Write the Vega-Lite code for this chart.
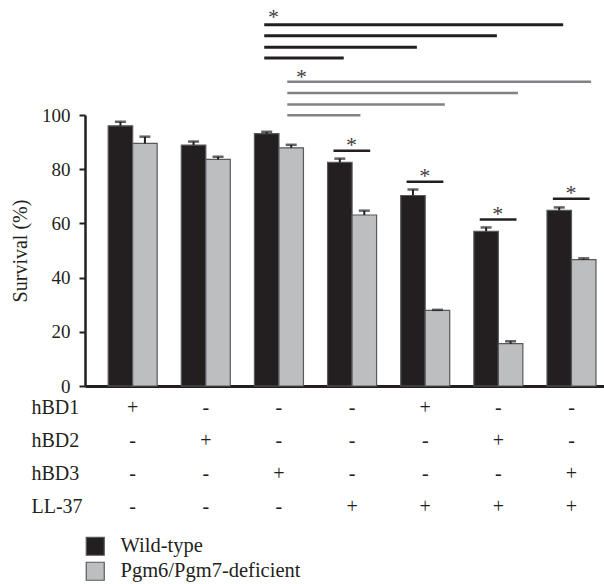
{
  "$schema": "https://vega.github.io/schema/vega-lite/v6.json",
  "background": "white",
  "padding": {"left": 10, "top": 5, "right": 0, "bottom": 0},
  "bounds": "flush",
  "spacing": 5,
  "config": {
    "font": "Liberation Serif",
    "view": {"stroke": null},
    "axis": {"grid": false}
  },
  "datasets": {
    "bars": [
      {"group": "1", "strain": "Wild-type", "survival": 96.0, "upper": 97.5},
      {"group": "1", "strain": "Pgm6/Pgm7-deficient", "survival": 89.5, "upper": 92.0},
      {"group": "2", "strain": "Wild-type", "survival": 88.9, "upper": 90.2},
      {"group": "2", "strain": "Pgm6/Pgm7-deficient", "survival": 83.6, "upper": 84.6},
      {"group": "3", "strain": "Wild-type", "survival": 93.1, "upper": 93.8},
      {"group": "3", "strain": "Pgm6/Pgm7-deficient", "survival": 87.9, "upper": 89.0},
      {"group": "4", "strain": "Wild-type", "survival": 82.5, "upper": 83.9},
      {"group": "4", "strain": "Pgm6/Pgm7-deficient", "survival": 63.1, "upper": 64.7},
      {"group": "5", "strain": "Wild-type", "survival": 70.3, "upper": 72.5},
      {"group": "5", "strain": "Pgm6/Pgm7-deficient", "survival": 27.9, "upper": 28.1},
      {"group": "6", "strain": "Wild-type", "survival": 57.1, "upper": 58.5},
      {"group": "6", "strain": "Pgm6/Pgm7-deficient", "survival": 15.6, "upper": 16.5},
      {"group": "7", "strain": "Wild-type", "survival": 64.8, "upper": 65.9},
      {"group": "7", "strain": "Pgm6/Pgm7-deficient", "survival": 46.6, "upper": 47.1}
    ],
    "pairs": [
      {"group": "4", "level": 86.8},
      {"group": "5", "level": 75.4},
      {"group": "6", "level": 61.4},
      {"group": "7", "level": 69.1}
    ],
    "cmp": [
      {"strain": "Wild-type", "from": "3", "to": "4", "level": 121.0},
      {"strain": "Wild-type", "from": "3", "to": "5", "level": 125.0},
      {"strain": "Wild-type", "from": "3", "to": "6", "level": 129.2},
      {"strain": "Wild-type", "from": "3", "to": "7", "level": 133.3},
      {"strain": "Pgm6/Pgm7-deficient", "from": "3", "to": "4", "level": 99.9},
      {"strain": "Pgm6/Pgm7-deficient", "from": "3", "to": "5", "level": 103.9},
      {"strain": "Pgm6/Pgm7-deficient", "from": "3", "to": "6", "level": 108.1},
      {"strain": "Pgm6/Pgm7-deficient", "from": "3", "to": "7", "level": 112.3}
    ],
    "table": [
      {"group": "1", "peptide": "hBD1", "sign": "+"},
      {"group": "2", "peptide": "hBD1", "sign": "-"},
      {"group": "3", "peptide": "hBD1", "sign": "-"},
      {"group": "4", "peptide": "hBD1", "sign": "-"},
      {"group": "5", "peptide": "hBD1", "sign": "+"},
      {"group": "6", "peptide": "hBD1", "sign": "-"},
      {"group": "7", "peptide": "hBD1", "sign": "-"},
      {"group": "1", "peptide": "hBD2", "sign": "-"},
      {"group": "2", "peptide": "hBD2", "sign": "+"},
      {"group": "3", "peptide": "hBD2", "sign": "-"},
      {"group": "4", "peptide": "hBD2", "sign": "-"},
      {"group": "5", "peptide": "hBD2", "sign": "-"},
      {"group": "6", "peptide": "hBD2", "sign": "+"},
      {"group": "7", "peptide": "hBD2", "sign": "-"},
      {"group": "1", "peptide": "hBD3", "sign": "-"},
      {"group": "2", "peptide": "hBD3", "sign": "-"},
      {"group": "3", "peptide": "hBD3", "sign": "+"},
      {"group": "4", "peptide": "hBD3", "sign": "-"},
      {"group": "5", "peptide": "hBD3", "sign": "-"},
      {"group": "6", "peptide": "hBD3", "sign": "-"},
      {"group": "7", "peptide": "hBD3", "sign": "+"},
      {"group": "1", "peptide": "LL-37", "sign": "-"},
      {"group": "2", "peptide": "LL-37", "sign": "-"},
      {"group": "3", "peptide": "LL-37", "sign": "-"},
      {"group": "4", "peptide": "LL-37", "sign": "+"},
      {"group": "5", "peptide": "LL-37", "sign": "+"},
      {"group": "6", "peptide": "LL-37", "sign": "+"},
      {"group": "7", "peptide": "LL-37", "sign": "+"}
    ]
  },
  "vconcat": [
    {
      "width": 520,
      "height": 271,
      "layer": [
        {
          "data": {"name": "bars"},
          "mark": {"type": "bar", "stroke": "#58595b", "strokeWidth": 1.2},
          "encoding": {
            "x": {
              "field": "group", "type": "nominal", "sort": null,
              "scale": {"type": "band", "domain": ["1", "2", "3", "4", "5", "6", "7"], "paddingInner": 0.33, "paddingOuter": 0.22, "align": 0.72},
              "axis": {"labels": false, "ticks": false, "title": null, "domain": true, "domainColor": "#231f20", "domainWidth": 3}
            },
            "xOffset": {"field": "strain", "type": "nominal", "sort": ["Wild-type", "Pgm6/Pgm7-deficient"], "scale": {"paddingInner": 0, "paddingOuter": 0}},
            "y": {
              "field": "survival", "type": "quantitative", "stack": null, "title": "Survival (%)",
              "scale": {"domain": [0, 100], "nice": false, "zero": true},
              "axis": {"values": [0, 20, 40, 60, 80, 100], "tickSize": 6, "tickWidth": 2, "tickColor": "#231f20", "domainColor": "#231f20", "domainWidth": 2.5, "labelFontSize": 19, "labelColor": "#231f20", "labelPadding": 9, "titleFontSize": 20, "titleFontWeight": "normal", "titleColor": "#231f20", "titlePadding": 11}
            },
            "color": {
              "field": "strain", "type": "nominal", "sort": ["Wild-type", "Pgm6/Pgm7-deficient"],
              "scale": {"domain": ["Wild-type", "Pgm6/Pgm7-deficient"], "range": ["#231f20", "#bcbec0"]},
              "legend": {"orient": "none", "legendX": 0, "legendY": 421, "title": null, "direction": "vertical", "symbolType": "square", "symbolSize": 324, "symbolStrokeColor": "#58595b", "symbolStrokeWidth": 1.2, "labelFontSize": 20.5, "labelColor": "#231f20", "labelOffset": 15, "labelLimit": 0, "rowPadding": 1, "padding": 0}
            }
          }
        },
        {
          "data": {"name": "bars"},
          "mark": {"type": "rule", "color": "#231f20", "strokeWidth": 2},
          "encoding": {
            "x": {"field": "group", "type": "nominal", "sort": null},
            "xOffset": {"field": "strain", "type": "nominal", "sort": ["Wild-type", "Pgm6/Pgm7-deficient"]},
            "y": {"field": "survival", "type": "quantitative", "title": "Survival (%)"},
            "y2": {"field": "upper"}
          }
        },
        {
          "data": {"name": "bars"},
          "mark": {"type": "tick", "color": "#231f20", "thickness": 2.5, "size": 11, "orient": "horizontal"},
          "encoding": {
            "x": {"field": "group", "type": "nominal", "sort": null},
            "xOffset": {"field": "strain", "type": "nominal", "sort": ["Wild-type", "Pgm6/Pgm7-deficient"]},
            "y": {"field": "upper", "type": "quantitative", "title": "Survival (%)"}
          }
        },
        {
          "data": {"name": "pairs"},
          "mark": {"type": "rule", "color": "#231f20", "strokeWidth": 2.5},
          "encoding": {
            "x": {"field": "group", "type": "nominal", "sort": null, "bandPosition": 0.12},
            "x2": {"field": "group", "bandPosition": 0.87},
            "y": {"field": "level", "type": "quantitative", "title": "Survival (%)"}
          }
        },
        {
          "data": {"name": "pairs"},
          "mark": {"type": "text", "text": "*", "fontSize": 22, "color": "#414042", "baseline": "alphabetic", "align": "center", "dy": 1},
          "encoding": {
            "x": {"field": "group", "type": "nominal", "sort": null, "bandPosition": 0.49},
            "y": {"field": "level", "type": "quantitative", "title": "Survival (%)"}
          }
        },
        {
          "data": {"name": "cmp"},
          "transform": [{"filter": "datum.strain === 'Wild-type' && datum.to !== '6'"}],
          "mark": {"type": "rule", "color": "#231f20", "strokeWidth": 3},
          "encoding": {
            "x": {"field": "from", "type": "nominal", "sort": null, "bandPosition": 0.2},
            "x2": {"field": "to", "bandPosition": 0.33},
            "y": {"field": "level", "type": "quantitative", "title": "Survival (%)"}
          }
        },
        {
          "data": {"name": "cmp"},
          "transform": [{"filter": "datum.strain === 'Wild-type' && datum.to === '6'"}],
          "mark": {"type": "rule", "color": "#231f20", "strokeWidth": 3},
          "encoding": {
            "x": {"field": "from", "type": "nominal", "sort": null, "bandPosition": 0.2},
            "x2": {"field": "to", "bandPosition": 0.47},
            "y": {"field": "level", "type": "quantitative", "title": "Survival (%)"}
          }
        },
        {
          "data": {"name": "cmp"},
          "transform": [{"filter": "datum.strain !== 'Wild-type' && datum.to !== '4'"}],
          "mark": {"type": "rule", "color": "#808285", "strokeWidth": 2.5},
          "encoding": {
            "x": {"field": "from", "type": "nominal", "sort": null, "bandPosition": 0.67},
            "x2": {"field": "to", "bandPosition": 0.9},
            "y": {"field": "level", "type": "quantitative", "title": "Survival (%)"}
          }
        },
        {
          "data": {"name": "cmp"},
          "transform": [{"filter": "datum.strain !== 'Wild-type' && datum.to === '4'"}],
          "mark": {"type": "rule", "color": "#808285", "strokeWidth": 2.5},
          "encoding": {
            "x": {"field": "from", "type": "nominal", "sort": null, "bandPosition": 0.67},
            "x2": {"field": "to", "bandPosition": 0.67},
            "y": {"field": "level", "type": "quantitative", "title": "Survival (%)"}
          }
        },
        {
          "data": {"name": "cmp"},
          "transform": [{"filter": "datum.strain === 'Wild-type' && datum.to === '7'"}],
          "mark": {"type": "text", "text": "*", "fontSize": 22, "color": "#414042", "baseline": "alphabetic", "align": "center", "dy": -1},
          "encoding": {
            "x": {"field": "from", "type": "nominal", "sort": null, "bandPosition": 0.39},
            "y": {"field": "level", "type": "quantitative", "title": "Survival (%)"}
          }
        },
        {
          "data": {"name": "cmp"},
          "transform": [{"filter": "datum.strain !== 'Wild-type' && datum.to === '7'"}],
          "mark": {"type": "text", "text": "*", "fontSize": 22, "color": "#414042", "baseline": "alphabetic", "align": "center", "dy": 2},
          "encoding": {
            "x": {"field": "from", "type": "nominal", "sort": null, "bandPosition": 0.96},
            "y": {"field": "level", "type": "quantitative", "title": "Survival (%)"}
          }
        }
      ]
    },
    {
      "width": 520,
      "height": 132,
      "data": {"name": "table"},
      "mark": {"type": "text", "fontSize": 20, "color": "#231f20", "baseline": "middle", "align": "center"},
      "encoding": {
        "x": {
          "field": "group", "type": "nominal", "sort": null,
          "scale": {"type": "band", "domain": ["1", "2", "3", "4", "5", "6", "7"], "paddingInner": 0.33, "paddingOuter": 0.22, "align": 0.72},
          "axis": null
        },
        "y": {
          "field": "peptide", "type": "nominal", "sort": ["hBD1", "hBD2", "hBD3", "LL-37"],
          "scale": {"type": "point", "padding": 0.5},
          "axis": {"domain": false, "ticks": false, "tickSize": 0, "labelPadding": 54, "labelAlign": "left", "labelBaseline": "middle", "labelFontSize": 20, "labelColor": "#231f20", "title": null}
        },
        "text": {"field": "sign"}
      }
    }
  ]
}
